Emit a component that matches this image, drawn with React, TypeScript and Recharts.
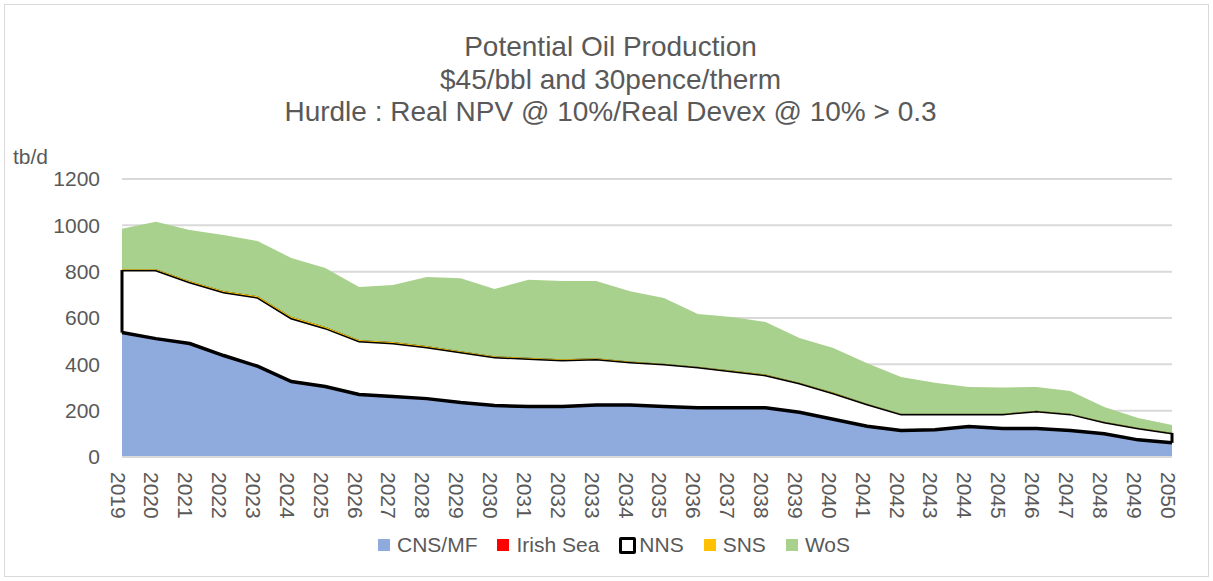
import React from 'react';
import {
  AreaChart,
  Area,
  Line,
  XAxis,
  YAxis,
  CartesianGrid,
  ReferenceLine,
  Legend,
} from 'recharts';

const years = [
  '2019', '2020', '2021', '2022', '2023', '2024', '2025', '2026', '2027', '2028', '2029',
  '2030', '2031', '2032', '2033', '2034', '2035', '2036', '2037', '2038', '2039', '2040',
  '2041', '2042', '2043', '2044', '2045', '2046', '2047', '2048', '2049', '2050',
];

const cnsMf = [535, 509, 488, 436, 390, 324, 302, 268, 259, 250, 233, 220, 216, 216, 222, 222, 216, 211, 211, 211, 190, 160, 130, 112, 116, 130, 121, 121, 112, 99, 73, 60];
const irishSea = [2, 2, 2, 2, 2, 2, 2, 2, 2, 2, 2, 2, 2, 2, 2, 2, 2, 2, 2, 2, 3, 3, 3, 2, 2, 2, 2, 2, 2, 1, 1, 1];
const nns = [270, 296, 265, 274, 298, 274, 253, 231, 231, 223, 218, 210, 207, 201, 199, 186, 183, 175, 158, 141, 126, 113, 96, 72, 68, 54, 63, 76, 72, 51, 51, 43];
const sns = [3, 3, 5, 5, 5, 5, 5, 4, 4, 4, 3, 3, 3, 3, 3, 2, 2, 2, 2, 2, 2, 2, 1, 1, 1, 1, 1, 1, 1, 1, 1, 1];
const wos = [175, 205, 220, 241, 237, 254, 254, 229, 246, 298, 316, 290, 337, 338, 334, 303, 283, 227, 231, 227, 193, 192, 175, 158, 133, 115, 113, 102, 98, 64, 42, 33];

const yTicks = [0, 200, 400, 600, 800, 1000, 1200];

const titleLines = [
  'Potential Oil Production',
  '$45/bbl and 30pence/therm',
  'Hurdle : Real NPV @ 10%/Real Devex @ 10% > 0.3',
];

const legendItems = [
  { name: 'CNS/MF', color: '#8faadc' },
  { name: 'Irish Sea', color: '#ff0000' },
  { name: 'NNS', color: '#ffffff', border: true },
  { name: 'SNS', color: '#ffc000' },
  { name: 'WoS', color: '#a9d18e' },
];

const FONT = '"Liberation Sans", Arial, sans-serif';
const TEXT = '#595959';

const data = years.map((year, i) => ({
  year,
  cnsMf: cnsMf[i],
  irishSea: irishSea[i],
  nns: nns[i],
  sns: sns[i],
  wos: wos[i],
  // bottom edge of the NNS band, used for its outline
  nnsBase: cnsMf[i] + irishSea[i],
}));

const first = data[0];
const last = data[data.length - 1];

const XTick = ({ x, y, payload }: any) => (
  <text
    transform={`translate(${x},${y}) rotate(90)`}
    x={15}
    y={4}
    dominantBaseline="central"
    textAnchor="start"
    fill={TEXT}
    fontSize={21}
    fontFamily={FONT}
  >
    {payload.value}
  </text>
);

const LegendContent = () => (
  <div
    style={{
      display: 'flex',
      justifyContent: 'center',
      alignItems: 'center',
      gap: 20,
      fontFamily: FONT,
      fontSize: 21,
      color: TEXT,
      paddingLeft: 56,
    }}
  >
    {legendItems.map((item) => (
      <div key={item.name} style={{ display: 'flex', alignItems: 'center' }}>
        <span
          style={{
            display: 'inline-block',
            width: item.border ? 11 : 12,
            height: item.border ? 11 : 12,
            background: item.color,
            border: item.border ? '3px solid #000' : 'none',
            borderRadius: item.border ? 2 : 0,
            marginRight: item.border ? 3 : 7,
          }}
        />
        {item.name}
      </div>
    ))}
  </div>
);

export default function App() {
  return (
    <div style={{ position: 'absolute', left: 0, top: 0, width: 1213, height: 581, background: '#fff' }}>
      <div
        style={{
          position: 'absolute',
          left: 4,
          top: 4,
          width: 1203,
          height: 571,
          border: '1px solid #d9d9d9',
        }}
      />
      {titleLines.map((line, i) => (
        <div
          key={line}
          style={{
            position: 'absolute',
            left: 0,
            width: 1213,
            top: 30 + i * 32.5,
            textAlign: 'center',
            fontFamily: FONT,
            fontSize: 28,
            lineHeight: '34px',
            color: TEXT,
            paddingLeft: 4,
          }}
        >
          {line}
        </div>
      ))}
      <div
        style={{
          position: 'absolute',
          left: 13,
          top: 145,
          fontFamily: FONT,
          fontSize: 21,
          color: TEXT,
        }}
      >
        tb/d
      </div>
      <AreaChart
        width={1213}
        height={581}
        data={data}
        margin={{ top: 179, right: 41, bottom: 22, left: 0 }}
      >
        <CartesianGrid vertical={false} stroke="#d9d9d9" strokeWidth={2} />
        <XAxis
          dataKey="year"
          height={76}
          axisLine={{ stroke: '#d9d9d9', strokeWidth: 2 }}
          tickLine={false}
          tickSize={0}
          tickMargin={0}
          interval={0}
          tick={<XTick />}
        />
        <YAxis
          width={122}
          domain={[0, 1200]}
          ticks={yTicks}
          axisLine={false}
          tickLine={false}
          tickSize={0}
          tickMargin={22}
          tick={{ fill: TEXT, fontSize: 21, fontFamily: FONT }}
        />
        <Legend verticalAlign="bottom" height={26} content={<LegendContent />} />
        <Area type="linear" dataKey="cnsMf" name="CNS/MF" stackId="1" fill="#8faadc" fillOpacity={1} stroke="none" isAnimationActive={false} />
        <Area type="linear" dataKey="irishSea" name="Irish Sea" stackId="1" fill="#ff0000" fillOpacity={1} stroke="none" isAnimationActive={false} />
        <Area type="linear" dataKey="nns" name="NNS" stackId="1" fill="#ffffff" fillOpacity={1} stroke="#000" strokeWidth={3} isAnimationActive={false} />
        <Area type="linear" dataKey="sns" name="SNS" stackId="1" fill="#ffc000" fillOpacity={1} stroke="none" isAnimationActive={false} />
        <Area type="linear" dataKey="wos" name="WoS" stackId="1" fill="#a9d18e" fillOpacity={1} stroke="none" isAnimationActive={false} />
        <Line type="linear" dataKey="nnsBase" stroke="#000" strokeWidth={3.5} dot={false} activeDot={false} legendType="none" isAnimationActive={false} />
        <ReferenceLine
          segment={[
            { x: first.year, y: first.nnsBase },
            { x: first.year, y: first.nnsBase + first.nns },
          ]}
          stroke="#000"
          strokeWidth={3}
        />
        <ReferenceLine
          segment={[
            { x: last.year, y: last.nnsBase },
            { x: last.year, y: last.nnsBase + last.nns },
          ]}
          stroke="#000"
          strokeWidth={3}
        />
      </AreaChart>
    </div>
  );
}
